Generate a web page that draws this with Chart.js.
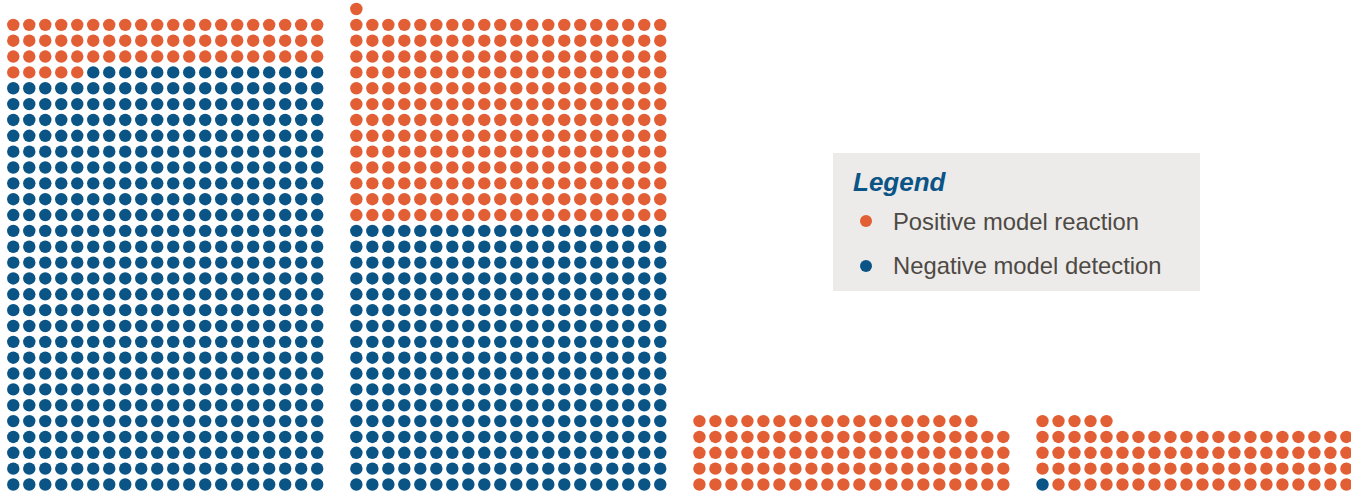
<!DOCTYPE html>
<html>
<head>
<meta charset="utf-8">
<script src="https://cdn.jsdelivr.net/npm/chart.js@4/dist/chart.umd.min.js"></script>
<style>
    html, body { margin: 0; padding: 0; background: #fff; }
    #wrap { position: relative; width: 1351px; height: 496px; overflow: hidden; }
    #legend-box {
        position: absolute; left: 833px; top: 153px; width: 367px; height: 138px;
        background: #ecebe9; font-family: "Liberation Sans", Arial, sans-serif;
    }
    #legend-box .title {
        position: absolute; left: 20px; top: 15.5px; line-height: 1;
        font-size: 26px; font-weight: bold; font-style: italic; color: #0b5486;
    }
    #legend-box .item {
        position: absolute; left: 60px; line-height: 1; font-size: 23.8px; color: #4e4944;
    }
    #legend-box .dot { position: absolute; left: 27px; width: 12px; height: 12px; border-radius: 50%; }
</style>
</head>
<body>
<div id="wrap">
    <canvas id="waffle"></canvas>
    <div id="legend-box">
        <div class="title">Legend</div>
        <div class="dot" style="top:62px;background:#e25e34"></div>
        <div class="item" style="top:57px">Positive model reaction</div>
        <div class="dot" style="top:107px;background:#0a5486"></div>
        <div class="item" style="top:101px">Negative model detection</div>
    </div>
</div>
<script>
// ── data ──
const ORANGE = '#e25e34', BLUE = '#0a5486';
const PER_ROW = 20;
// dot runs of each group, in reading order from the top-left (top row may be short)
const group1 = [['pos', 65], ['neg', 535]];
const group2 = [['pos', 261], ['neg', 340]];
const group3 = [['pos', 98]];
const group4 = [['pos', 65], ['neg', 1], ['pos', 19]];
const groups = [group1, group2, group3, group4];

const GROUP_STEP = 21.45;   // columns from one group start to the next

// ── build points ──
const posPts = [], negPts = [];
groups.forEach((runs, g) => {
    const n = runs.reduce((s, r) => s + r[1], 0);
    const rows = Math.ceil(n / PER_ROW);
    const first = n - (rows - 1) * PER_ROW;
    let k = 0;
    runs.forEach(([kind, count]) => {
        for (let i = 0; i < count; i++, k++) {
            let row, col;
            if (k < first) { row = rows - 1; col = k; }
            else {
                const j = k - first;
                row = rows - 2 - Math.floor(j / PER_ROW);
                col = j % PER_ROW;
            }
            (kind === 'pos' ? posPts : negPts).push({ x: g * GROUP_STEP + col, y: row });
        }
    });
});

new Chart(document.getElementById('waffle'), {
    type: 'scatter',
    data: {
        datasets: [
            { label: 'Positive model reaction', data: posPts, backgroundColor: ORANGE },
            { label: 'Negative model detection', data: negPts, backgroundColor: BLUE }
        ]
    },
    options: {
        responsive: true,
        maintainAspectRatio: false,
        animation: false,
        events: [],
        layout: { padding: 0, autoPadding: false },
        elements: { point: { radius: 6.2, borderWidth: 0, hoverRadius: 6.2 } },
        plugins: { legend: { display: false }, tooltip: { enabled: false } },
        scales: {
            x: { type: 'linear', display: false, min: -0.83, max: 83.6375 },
            y: { type: 'linear', display: false, min: -0.725, max: 30.568 }
        }
    }
});
</script>
</body>
</html>
